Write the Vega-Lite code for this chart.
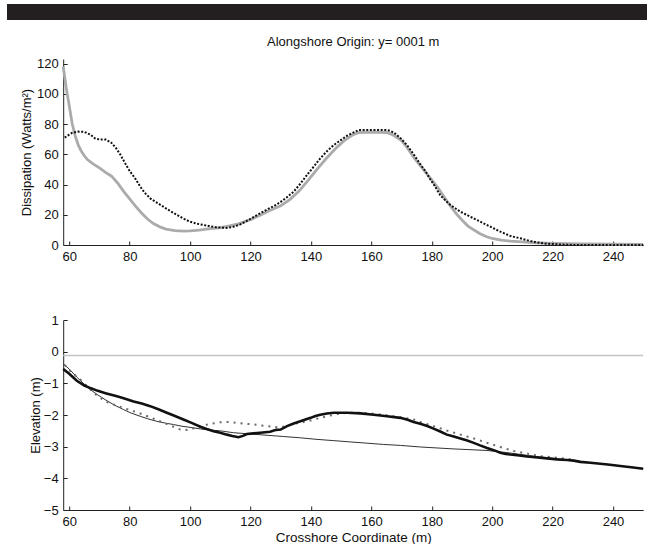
{
  "$schema": "https://vega.github.io/schema/vega-lite/v6.json",
  "padding": {"left": 7, "top": 4, "right": 0, "bottom": 0},
  "background": "white",
  "spacing": 15,
  "center": true,
  "config": {
    "font": "Liberation Sans",
    "view": {"stroke": null},
    "axis": {
      "grid": false,
      "domainColor": "#222",
      "tickColor": "#222",
      "tickSize": -4,
      "labelFont": "Liberation Sans",
      "labelFontSize": 13,
      "labelColor": "#111",
      "labelPadding": 9,
      "labelOverlap": false,
      "titleFont": "Liberation Sans",
      "titleFontSize": 13.5,
      "titleFontWeight": "normal",
      "titleColor": "#111"
    },
    "title": {"font": "Liberation Sans", "fontSize": 13, "fontWeight": "normal", "color": "#111"}
  },
  "datasets": {
    "dissModel": [
      {"x": 58, "D": 118}, {"x": 59, "D": 104}, {"x": 60, "D": 92}, {"x": 61, "D": 80}, {"x": 62, "D": 72},
      {"x": 63, "D": 66}, {"x": 64, "D": 62}, {"x": 65, "D": 59}, {"x": 66, "D": 56.5}, {"x": 68, "D": 53.5},
      {"x": 70, "D": 51}, {"x": 72, "D": 48}, {"x": 74, "D": 45.5}, {"x": 76, "D": 41}, {"x": 78, "D": 35.5},
      {"x": 80, "D": 30.5}, {"x": 82, "D": 25.5}, {"x": 84, "D": 21}, {"x": 86, "D": 17}, {"x": 88, "D": 14},
      {"x": 90, "D": 12}, {"x": 92, "D": 10.5}, {"x": 95, "D": 9.5}, {"x": 98, "D": 9.2}, {"x": 100, "D": 9.3},
      {"x": 103, "D": 9.9}, {"x": 106, "D": 10.6}, {"x": 110, "D": 11.5}, {"x": 113, "D": 12.6}, {"x": 116, "D": 14},
      {"x": 120, "D": 16.8}, {"x": 123, "D": 19.5}, {"x": 126, "D": 22.5}, {"x": 130, "D": 26}, {"x": 133, "D": 30},
      {"x": 136, "D": 35.5}, {"x": 139, "D": 42.5}, {"x": 142, "D": 50}, {"x": 145, "D": 57}, {"x": 148, "D": 63.5},
      {"x": 151, "D": 69}, {"x": 154, "D": 73}, {"x": 156, "D": 74.4}, {"x": 160, "D": 74.6}, {"x": 165, "D": 74.4},
      {"x": 167, "D": 73}, {"x": 170, "D": 69}, {"x": 172, "D": 64}, {"x": 174, "D": 58}, {"x": 176, "D": 53},
      {"x": 178, "D": 48}, {"x": 180, "D": 43}, {"x": 182, "D": 38}, {"x": 185, "D": 29}, {"x": 188, "D": 21},
      {"x": 190, "D": 16.5}, {"x": 192, "D": 12.5}, {"x": 194, "D": 9.9}, {"x": 196, "D": 7.5}, {"x": 198, "D": 5.6},
      {"x": 200, "D": 4.3}, {"x": 203, "D": 3.2}, {"x": 206, "D": 2.6}, {"x": 210, "D": 2}, {"x": 214, "D": 1.5},
      {"x": 220, "D": 1.1}, {"x": 230, "D": 0.7}, {"x": 240, "D": 0.5}, {"x": 250, "D": 0.4}
    ],
    "dissObs": [
      {"x": 58.5, "D": 71}, {"x": 60, "D": 73}, {"x": 61, "D": 74.2}, {"x": 63, "D": 75}, {"x": 65, "D": 74.8},
      {"x": 67, "D": 73}, {"x": 68.5, "D": 70.5}, {"x": 70, "D": 69.8}, {"x": 72, "D": 69.8}, {"x": 74, "D": 67.5},
      {"x": 75.5, "D": 64}, {"x": 77, "D": 59.5}, {"x": 78.5, "D": 54}, {"x": 80, "D": 49}, {"x": 82, "D": 43.5},
      {"x": 83.5, "D": 38.6}, {"x": 85, "D": 34.5}, {"x": 87, "D": 30.5}, {"x": 89, "D": 28}, {"x": 91, "D": 25.5},
      {"x": 93, "D": 23}, {"x": 95.7, "D": 19.8}, {"x": 98, "D": 17.3}, {"x": 100, "D": 15.4}, {"x": 102, "D": 14.2},
      {"x": 104.5, "D": 13.2}, {"x": 107, "D": 12.2}, {"x": 109, "D": 11.6}, {"x": 112, "D": 11.3}, {"x": 114, "D": 11.8},
      {"x": 116.6, "D": 13.6}, {"x": 120, "D": 17.2}, {"x": 123, "D": 20.8}, {"x": 126, "D": 24}, {"x": 128, "D": 26},
      {"x": 130, "D": 28.5}, {"x": 132, "D": 31.5}, {"x": 134.3, "D": 35.3}, {"x": 136.5, "D": 40.5}, {"x": 138.7, "D": 46.3},
      {"x": 141, "D": 52}, {"x": 143.1, "D": 57.3}, {"x": 145.3, "D": 62}, {"x": 147.5, "D": 66}, {"x": 150, "D": 69.5},
      {"x": 152, "D": 72.3}, {"x": 154, "D": 74.3}, {"x": 155.8, "D": 76}, {"x": 165.2, "D": 76}, {"x": 166.5, "D": 75.3},
      {"x": 168, "D": 73.5}, {"x": 170, "D": 70}, {"x": 172, "D": 65.5}, {"x": 174, "D": 60}, {"x": 176, "D": 54},
      {"x": 178, "D": 48.5}, {"x": 179.5, "D": 43.5}, {"x": 181, "D": 39}, {"x": 182.8, "D": 33}, {"x": 184.5, "D": 29.5},
      {"x": 186.2, "D": 26.4}, {"x": 188, "D": 24}, {"x": 189.5, "D": 22}, {"x": 191, "D": 20.5}, {"x": 192.8, "D": 18.7},
      {"x": 194.5, "D": 17}, {"x": 196.1, "D": 15.4}, {"x": 198, "D": 13.5}, {"x": 199.4, "D": 12.1}, {"x": 201, "D": 10.5},
      {"x": 202.7, "D": 8.8}, {"x": 204.5, "D": 7.3}, {"x": 206.1, "D": 5.9}, {"x": 208, "D": 5}, {"x": 209.4, "D": 4.4},
      {"x": 211, "D": 3.5}, {"x": 212.7, "D": 2.6}, {"x": 214.5, "D": 1.8}, {"x": 216, "D": 1.3}, {"x": 218, "D": 0.9},
      {"x": 221, "D": 0.5}, {"x": 224, "D": 0.2}, {"x": 227, "D": 0}, {"x": 250, "D": 0}
    ],
    "seaLevel": [{"E": -0.12}],
    "elevMeas": [
      {"x": 58, "E": -0.55}, {"x": 60, "E": -0.7}, {"x": 62.5, "E": -0.92}, {"x": 65, "E": -1.07}, {"x": 67, "E": -1.15},
      {"x": 69.2, "E": -1.23}, {"x": 72, "E": -1.31}, {"x": 75.8, "E": -1.41}, {"x": 78, "E": -1.47}, {"x": 81.3, "E": -1.57},
      {"x": 84, "E": -1.64}, {"x": 86.8, "E": -1.72}, {"x": 89.5, "E": -1.82}, {"x": 92.3, "E": -1.93}, {"x": 95, "E": -2.03},
      {"x": 97.8, "E": -2.14}, {"x": 100.5, "E": -2.25}, {"x": 103.4, "E": -2.37}, {"x": 105.5, "E": -2.44}, {"x": 107.8, "E": -2.51},
      {"x": 110, "E": -2.56}, {"x": 112.2, "E": -2.62}, {"x": 114, "E": -2.66}, {"x": 116, "E": -2.7}, {"x": 117.5, "E": -2.66},
      {"x": 118.8, "E": -2.6}, {"x": 121, "E": -2.58}, {"x": 123.2, "E": -2.56}, {"x": 126.5, "E": -2.53}, {"x": 128.5, "E": -2.47},
      {"x": 130, "E": -2.46}, {"x": 132.1, "E": -2.35}, {"x": 134.3, "E": -2.27}, {"x": 136.5, "E": -2.2}, {"x": 139.9, "E": -2.09},
      {"x": 141.5, "E": -2.03}, {"x": 143.1, "E": -1.99}, {"x": 145.3, "E": -1.95}, {"x": 147.6, "E": -1.93}, {"x": 152, "E": -1.93},
      {"x": 156.4, "E": -1.95}, {"x": 160.8, "E": -1.99}, {"x": 165.2, "E": -2.04}, {"x": 169.6, "E": -2.09}, {"x": 172, "E": -2.15},
      {"x": 174, "E": -2.22}, {"x": 176.2, "E": -2.28}, {"x": 178.5, "E": -2.35}, {"x": 180.6, "E": -2.43}, {"x": 183, "E": -2.53},
      {"x": 185, "E": -2.62}, {"x": 187, "E": -2.67}, {"x": 189.5, "E": -2.74}, {"x": 191.5, "E": -2.8}, {"x": 193.9, "E": -2.88},
      {"x": 196, "E": -2.96}, {"x": 198.3, "E": -3.04}, {"x": 200.5, "E": -3.11}, {"x": 202.7, "E": -3.19}, {"x": 204.5, "E": -3.23},
      {"x": 206, "E": -3.25}, {"x": 209, "E": -3.28}, {"x": 211.6, "E": -3.31}, {"x": 215, "E": -3.34}, {"x": 218.2, "E": -3.37},
      {"x": 221.5, "E": -3.4}, {"x": 224.8, "E": -3.42}, {"x": 227, "E": -3.44}, {"x": 229.2, "E": -3.48}, {"x": 232.5, "E": -3.51},
      {"x": 235.8, "E": -3.54}, {"x": 239, "E": -3.57}, {"x": 242.4, "E": -3.61}, {"x": 246, "E": -3.65}, {"x": 250, "E": -3.7}
    ],
    "elevObs": [
      {"x": 58.5, "E": -0.42}, {"x": 60.9, "E": -0.67}, {"x": 63.7, "E": -0.88}, {"x": 66, "E": -1.1}, {"x": 68.6, "E": -1.34},
      {"x": 70.3, "E": -1.46}, {"x": 72.5, "E": -1.59}, {"x": 74.7, "E": -1.67}, {"x": 78, "E": -1.78}, {"x": 81.3, "E": -1.88},
      {"x": 84.6, "E": -1.99}, {"x": 88, "E": -2.12}, {"x": 91.3, "E": -2.25}, {"x": 94.5, "E": -2.37}, {"x": 96.8, "E": -2.46},
      {"x": 99, "E": -2.47}, {"x": 100.5, "E": -2.44}, {"x": 102.3, "E": -2.39}, {"x": 104, "E": -2.34}, {"x": 106.2, "E": -2.29},
      {"x": 108, "E": -2.26}, {"x": 110, "E": -2.23}, {"x": 112.2, "E": -2.22}, {"x": 114.5, "E": -2.24}, {"x": 116.6, "E": -2.26},
      {"x": 121, "E": -2.3}, {"x": 125.5, "E": -2.35}, {"x": 128, "E": -2.38}, {"x": 129.9, "E": -2.39}, {"x": 132, "E": -2.34},
      {"x": 134.3, "E": -2.28}, {"x": 138.7, "E": -2.2}, {"x": 143.1, "E": -2.09}, {"x": 147.6, "E": -1.99}, {"x": 150, "E": -1.95},
      {"x": 152, "E": -1.93}, {"x": 156.4, "E": -1.93}, {"x": 160.8, "E": -1.96}, {"x": 165.2, "E": -2.01}, {"x": 169.6, "E": -2.07},
      {"x": 174, "E": -2.14}, {"x": 176.2, "E": -2.22}, {"x": 180.6, "E": -2.35}, {"x": 185, "E": -2.49}, {"x": 189.5, "E": -2.62},
      {"x": 193.9, "E": -2.74}, {"x": 198.3, "E": -2.88}, {"x": 202.7, "E": -3.01}, {"x": 207.2, "E": -3.14}, {"x": 211.6, "E": -3.22},
      {"x": 216, "E": -3.3}, {"x": 220.4, "E": -3.34}, {"x": 223.7, "E": -3.37}, {"x": 226, "E": -3.4}
    ],
    "elevEq": [
      {"x": 58, "E": -0.38}, {"x": 60, "E": -0.55}, {"x": 62.5, "E": -0.8}, {"x": 65, "E": -1.03}, {"x": 67, "E": -1.2},
      {"x": 69.5, "E": -1.37}, {"x": 72.5, "E": -1.55}, {"x": 75, "E": -1.69}, {"x": 78, "E": -1.83}, {"x": 80.5, "E": -1.94},
      {"x": 83.5, "E": -2.04}, {"x": 86, "E": -2.12}, {"x": 89, "E": -2.2}, {"x": 92, "E": -2.26}, {"x": 94.5, "E": -2.3},
      {"x": 97, "E": -2.35}, {"x": 100, "E": -2.39}, {"x": 103.4, "E": -2.44}, {"x": 106, "E": -2.47}, {"x": 110, "E": -2.5},
      {"x": 114.4, "E": -2.56}, {"x": 120, "E": -2.6}, {"x": 125.5, "E": -2.64}, {"x": 131, "E": -2.68}, {"x": 136.5, "E": -2.72},
      {"x": 142, "E": -2.77}, {"x": 147.6, "E": -2.81}, {"x": 153, "E": -2.85}, {"x": 158.6, "E": -2.89}, {"x": 164, "E": -2.93},
      {"x": 169.6, "E": -2.96}, {"x": 176.2, "E": -3.01}, {"x": 187, "E": -3.07}, {"x": 198.3, "E": -3.12}, {"x": 206, "E": -3.2},
      {"x": 212, "E": -3.28}, {"x": 220, "E": -3.37}, {"x": 230, "E": -3.48}, {"x": 240, "E": -3.58}, {"x": 250, "E": -3.69}
    ]
  },
  "vconcat": [
    {
      "width": 698,
      "height": 16,
      "view": {"fill": "#231f20", "stroke": null},
      "data": {"values": [{}]},
      "mark": {"type": "point", "opacity": 0}
    },
    {
      "bounds": "flush",
      "spacing": 75,
      "vconcat": [
        {
          "width": 580,
          "height": 186,
          "title": {"text": "Alongshore Origin: y= 0001 m", "frame": "group", "offset": 9},
          "encoding": {
            "x": {"field": "x", "type": "quantitative",
                  "scale": {"domain": [58, 250], "nice": false, "zero": false},
                  "axis": {"values": [60, 80, 100, 120, 140, 160, 180, 200, 220, 240], "title": null, "labelOverlap": false}},
            "y": {"field": "D", "type": "quantitative",
                  "scale": {"domain": [0, 123], "nice": false},
                  "axis": {"values": [0, 20, 40, 60, 80, 100, 120], "title": "Dissipation (Watts/m²)", "labelOverlap": false,
                           "minExtent": 56, "titlePadding": 0, "titleX": -30, "titleFontSize": 13}}
          },
          "layer": [
            {"data": {"name": "dissModel"}, "mark": {"type": "line", "color": "#ababab", "strokeWidth": 2.8}},
            {"data": {"name": "dissObs"}, "mark": {"type": "line", "color": "#111111", "strokeWidth": 2, "strokeDash": [2, 1.6], "strokeCap": "butt"}}
          ]
        },
        {
          "width": 580,
          "height": 190,
          "encoding": {
            "x": {"field": "x", "type": "quantitative",
                  "scale": {"domain": [58, 250], "nice": false, "zero": false},
                  "axis": {"values": [60, 80, 100, 120, 140, 160, 180, 200, 220, 240], "title": "Crosshore Coordinate (m)", "titlePadding": 2, "labelOverlap": false}},
            "y": {"field": "E", "type": "quantitative",
                  "scale": {"domain": [-5, 1], "nice": false, "zero": false},
                  "axis": {"values": [-5, -4, -3, -2, -1, 0, 1], "title": "Elevation (m)", "labelOverlap": false,
                           "minExtent": 56, "titlePadding": 0, "titleX": -21, "titleFontSize": 13}}
          },
          "layer": [
            {
              "data": {"name": "seaLevel"},
              "mark": {"type": "rule", "color": "#c4c4c4", "strokeWidth": 1.5},
              "encoding": {"x": null, "y": {"field": "E", "type": "quantitative"}}
            },
            {
              "data": {"name": "elevEq"},
              "mark": {"type": "line", "color": "#333333", "strokeWidth": 1}
            },
            {
              "data": {"name": "elevObs"},
              "mark": {"type": "line", "color": "#6a6a6a", "strokeWidth": 2, "strokeDash": [2, 5], "strokeCap": "butt"}
            },
            {
              "data": {"name": "elevMeas"},
              "mark": {"type": "line", "color": "#111111", "strokeWidth": 2.6}
            }
          ]
        }
      ]
    }
  ]
}
